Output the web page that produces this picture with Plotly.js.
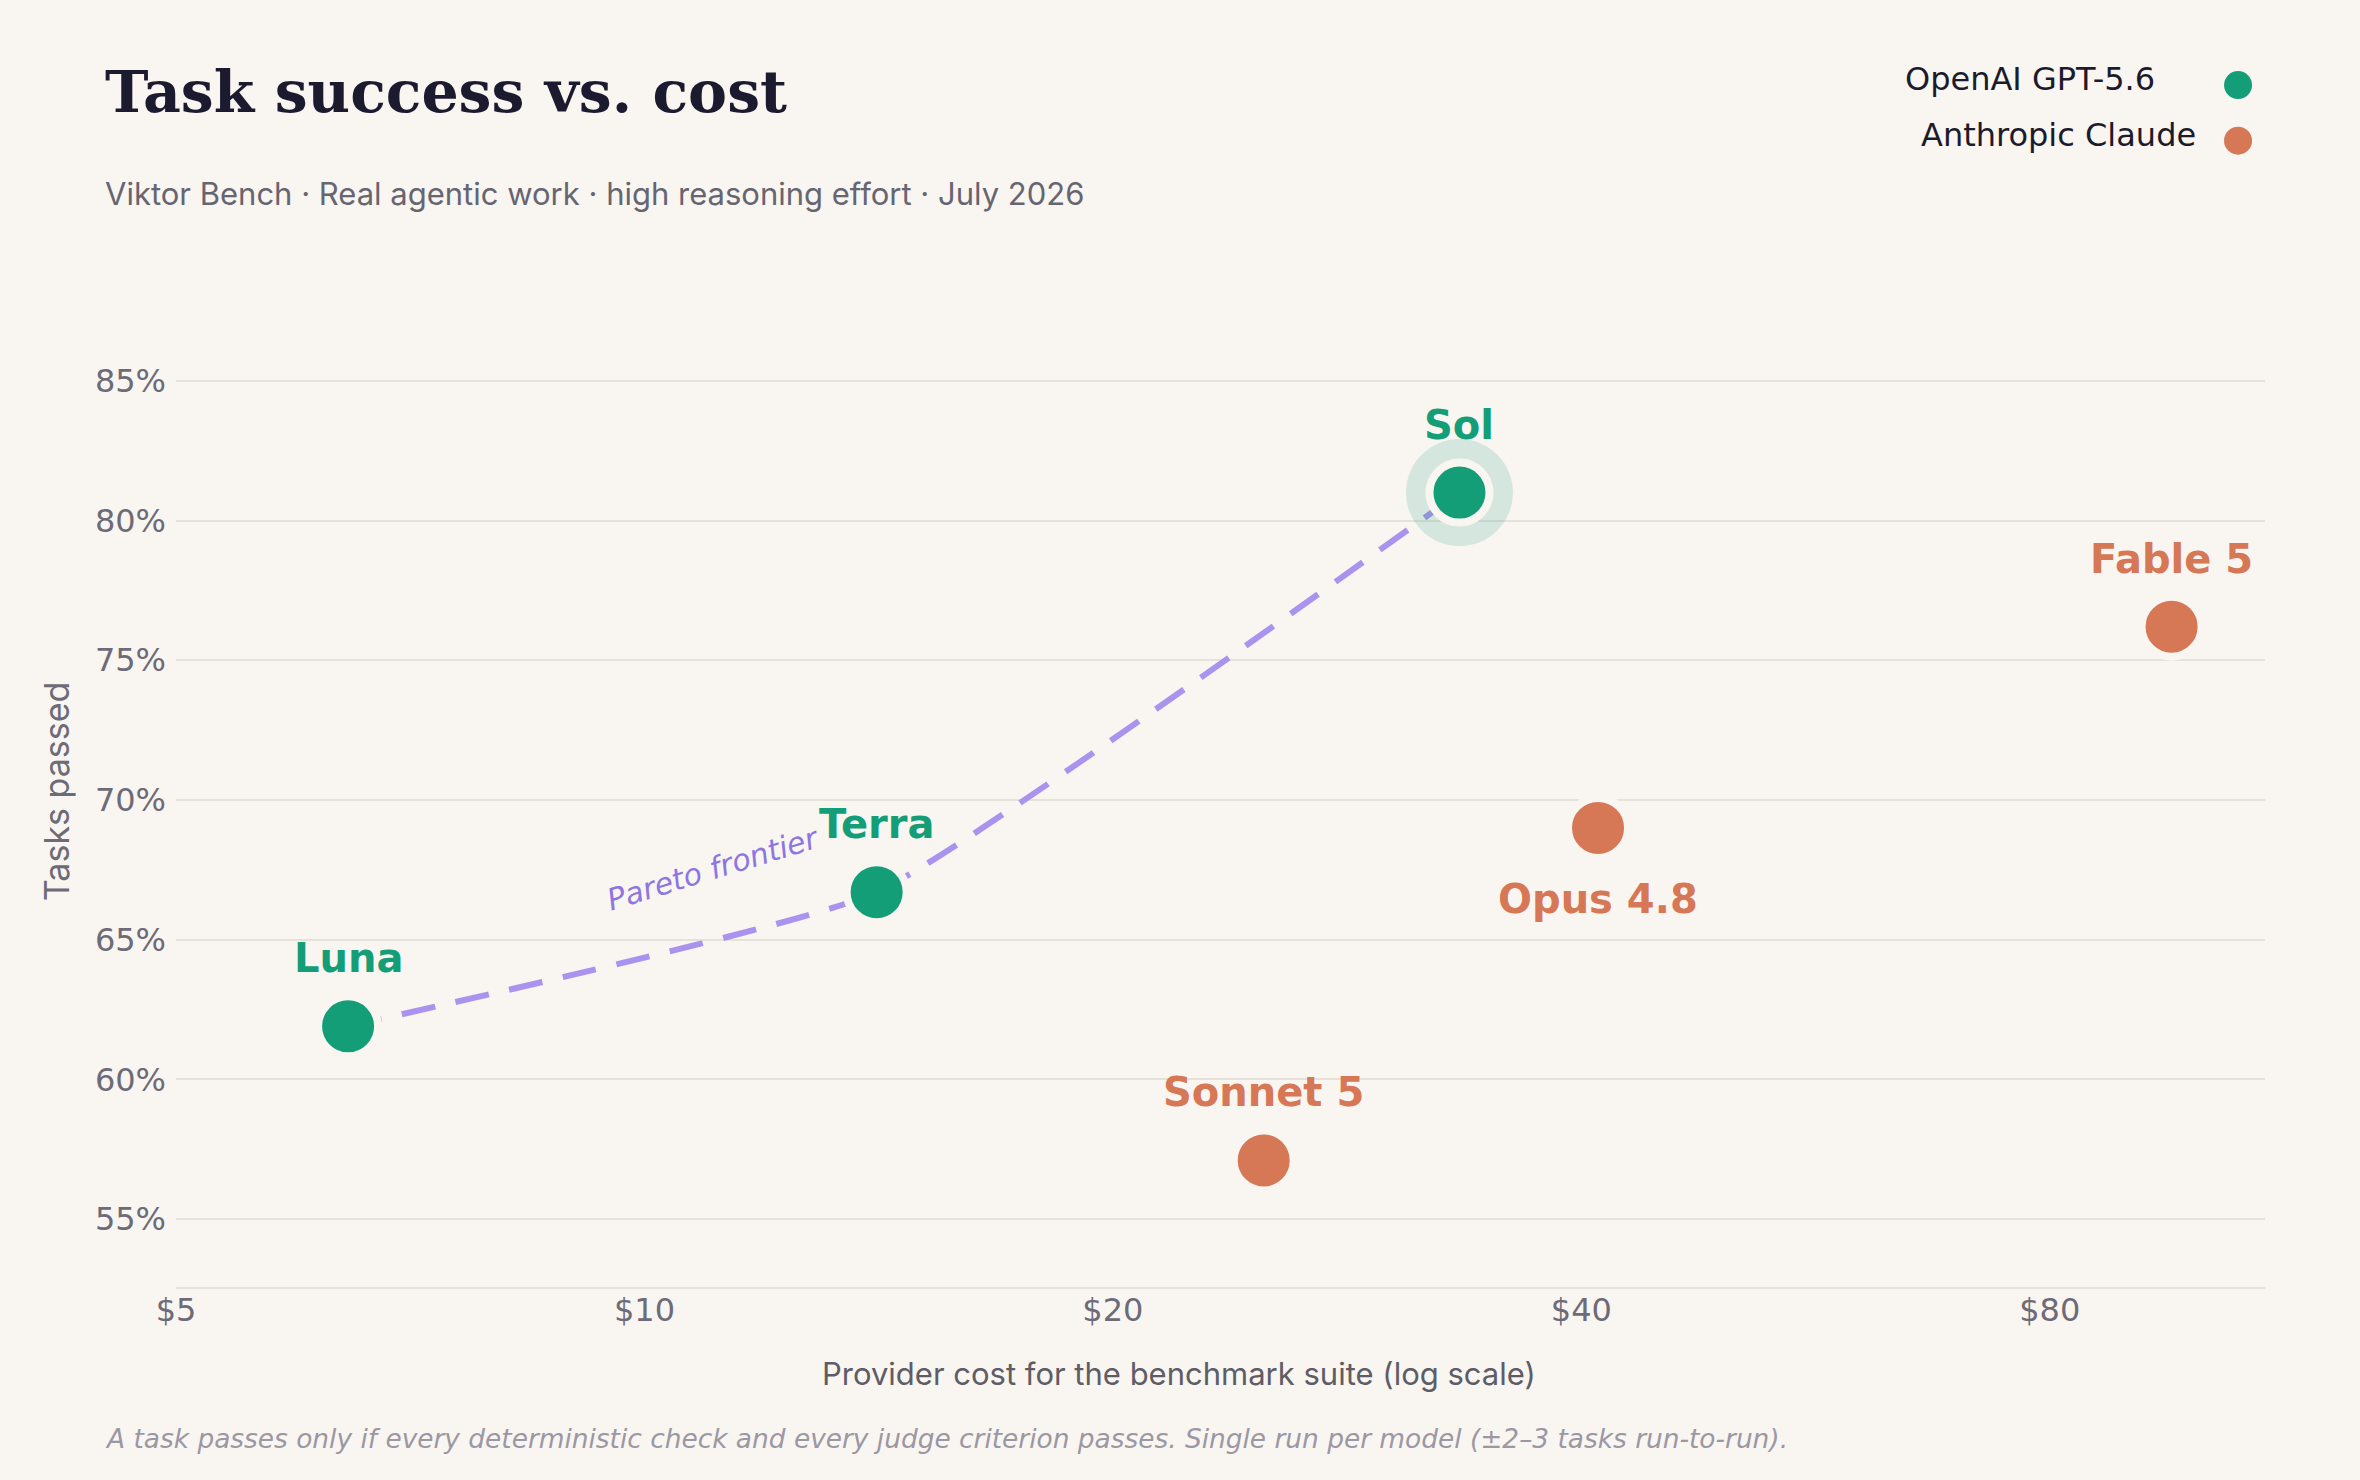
<!DOCTYPE html>
<html>
<head>
<meta charset="utf-8">
<script src="https://cdn.plot.ly/plotly-3.0.1.min.js"></script>
<style>
  html, body { margin: 0; padding: 0; background: #f9f5f1; }
  #chart { width: 2360px; height: 1480px; }
</style>
</head>
<body>
<div id="chart"></div>
<script>
// ---- data ----
const seriesNames = ["OpenAI GPT-5.6", "Anthropic Claude"];
const seriesColors = ["#139e78", "#d67756"];

const gptModels = ["Luna", "Terra", "Sol"];
const gptCost = [6.45, 14.1, 33.4];
const gptPassed = [61.9, 66.7, 81.0];
const gptLabelSide = ["above", "above", "above"];

const claudeModels = ["Sonnet 5", "Opus 4.8", "Fable 5"];
const claudeCost = [25.0, 41.0, 95.8];
const claudePassed = [57.1, 69.0, 76.2];
const claudeLabelSide = ["above", "below", "above"];

const frontierModels = ["Luna", "Terra", "Sol"];
const highlightModel = "Sol";

const xTickVals = [5, 10, 20, 40, 80];
const xTickText = ["$5", "$10", "$20", "$40", "$80"];
const yTickVals = [55, 60, 65, 70, 75, 80, 85];
const yTickText = ["55%", "60%", "65%", "70%", "75%", "80%", "85%"];

const titleText = "Task success vs. cost";
const subtitleText = "Viktor Bench · Real agentic work · high reasoning effort · July 2026";
const xTitle = "Provider cost for the benchmark suite (log scale)";
const yTitle = "Tasks passed";
const footerText = "A task passes only if every deterministic check and every judge criterion passes. Single run per model (±2–3 tasks run-to-run).";
const frontierLabel = "Pareto frontier";

// ---- styling ----
const BG = "#f9f5f1";
const GRID = "#e6e1d9";
const PURPLE = "#a993ee";

const frontierX = frontierModels.map(m => gptCost[gptModels.indexOf(m)]);
const frontierY = frontierModels.map(m => gptPassed[gptModels.indexOf(m)]);
const hiIdx = gptModels.indexOf(highlightModel);

const traces = [
  {
    x: frontierX, y: frontierY, type: "scatter", mode: "lines",
    line: { color: PURPLE, width: 6, dash: "34px,21px", shape: "spline", smoothing: 0.4 },
    hoverinfo: "skip", showlegend: false
  },
  {
    x: [gptCost[hiIdx]], y: [gptPassed[hiIdx]], type: "scatter", mode: "markers",
    marker: { size: 107, color: "rgba(19,158,120,0.16)", line: { width: 0 } },
    hoverinfo: "skip", showlegend: false
  },
  {
    name: seriesNames[0], x: gptCost, y: gptPassed, text: gptModels,
    type: "scatter", mode: "markers",
    marker: { size: 60, color: seriesColors[0], line: { color: BG, width: 8 } },
    showlegend: false
  },
  {
    name: seriesNames[1], x: claudeCost, y: claudePassed, text: claudeModels,
    type: "scatter", mode: "markers",
    marker: { size: 60, color: seriesColors[1], line: { color: BG, width: 8 } },
    showlegend: false
  }
];

const annotations = [];
function addLabels(models, cost, passed, side, color) {
  models.forEach((m, i) => {
    annotations.push({
      x: Math.log10(cost[i]), y: passed[i], xref: "x", yref: "y",
      text: m, showarrow: false, xanchor: "center", yanchor: "middle",
      yshift: side[i] === "above" ? 68 : -71,
      font: { family: "DejaVu Sans", size: 40, color: color, weight: "bold" }
    });
  });
}
addLabels(gptModels, gptCost, gptPassed, gptLabelSide, seriesColors[0]);
addLabels(claudeModels, claudeCost, claudePassed, claudeLabelSide, seriesColors[1]);

// frontier label
annotations.push({
  xref: "paper", yref: "paper", x: 0.2571, y: 0.4232,
  text: "<i>" + frontierLabel + "</i>", showarrow: false, textangle: -17,
  xanchor: "center", yanchor: "middle",
  font: { family: "DejaVu Sans", size: 30, color: "#8d75e2" }
});

// subtitle
annotations.push({
  xref: "paper", yref: "paper", x: -0.0350, y: 1.105,
  text: subtitleText, showarrow: false, xanchor: "left", yanchor: "middle",
  font: { family: "Inter", size: 31, color: "#666570" }
});

// footer
annotations.push({
  xref: "paper", yref: "paper", x: -0.0350, y: -0.1535,
  text: "<i>" + footerText + "</i>", showarrow: false, xanchor: "left", yanchor: "middle",
  font: { family: "DejaVu Sans", size: 26.4, color: "#9b98a4" }
});

// axis titles (placed as in the reference)
annotations.push({
  xref: "paper", yref: "paper", x: 0.4801, y: -0.0869,
  text: xTitle, showarrow: false, xanchor: "center", yanchor: "middle",
  font: { family: "Inter", size: 31, color: "#5e5d66" }
});
annotations.push({
  xref: "paper", yref: "paper", x: -0.0574, y: 0.5,
  text: yTitle, showarrow: false, xanchor: "center", yanchor: "middle", textangle: -90,
  font: { family: "Inter", size: 34, color: "#6d6b77" }
});

// manual legend (text on left, marker on right)
const legendTextX = [0.9484, 0.9680];
const legendY = [1.2207, 1.1636];
const legendMarkerY = [1.2141, 1.1579];
const shapes = [];
seriesNames.forEach((n, i) => {
  annotations.push({
    xref: "paper", yref: "paper", x: legendTextX[i], y: legendY[i],
    text: n, showarrow: false, xanchor: "right", yanchor: "middle",
    font: { family: "DejaVu Sans", size: 32, color: "#1c1b2c" }
  });
  shapes.push({
    type: "circle", xref: "paper", yref: "paper",
    xsizemode: "pixel", ysizemode: "pixel",
    xanchor: 0.9871, yanchor: legendMarkerY[i],
    x0: -14, x1: 14, y0: -14, y1: 14,
    fillcolor: seriesColors[i], line: { width: 0 }
  });
});

const layout = {
  width: 2360, height: 1480,
  paper_bgcolor: BG, plot_bgcolor: BG,
  margin: { l: 176, r: 95, t: 297, b: 193 },
  showlegend: false,
  title: {
    text: titleText, xref: "container", yref: "container",
    x: 105 / 2360, xanchor: "left", y: 1 - 92 / 1480, yanchor: "middle",
    font: { family: "DejaVu Serif", size: 58.5, color: "#1b1a2e", weight: "bold" }
  },
  xaxis: {
    type: "log", range: [Math.log10(5), Math.log10(110)],
    tickvals: xTickVals, ticktext: xTickText,
    showgrid: false, zeroline: false,
    showline: true, linecolor: GRID, linewidth: 2,
    ticks: "", ticklabelstandoff: -6,
    tickfont: { family: "DejaVu Sans", size: 32, color: "#6d6b77" }
  },
  yaxis: {
    range: [52.57, 88.0], tickvals: yTickVals, ticktext: yTickText,
    showgrid: true, gridcolor: GRID, gridwidth: 2,
    zeroline: false, showline: false, ticks: "", ticklabelstandoff: 9,
    tickfont: { family: "DejaVu Sans", size: 32, color: "#6d6b77" }
  },
  annotations: annotations,
  shapes: shapes
};

Plotly.newPlot("chart", traces, layout, { displayModeBar: false, staticPlot: true });
</script>
</body>
</html>
